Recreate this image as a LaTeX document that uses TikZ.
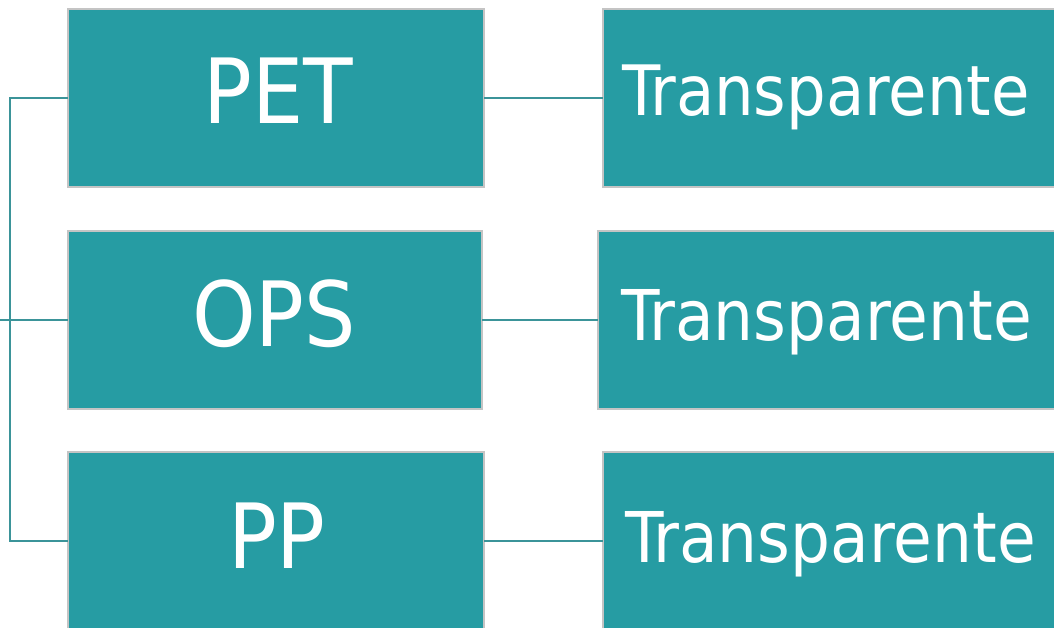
\documentclass[tikz,border=0pt]{standalone}
\usepackage{fontspec}
\newfontfamily\boxfont{DejaVu Sans Condensed}
\definecolor{teal1}{HTML}{269CA3}
\definecolor{edge1}{HTML}{C4C4C4}
\definecolor{line1}{HTML}{3B9499}
\begin{document}
\begin{tikzpicture}[x=1pt,y=-1pt,
  tbox/.style={draw=edge1, line width=1.4pt, fill=teal1, inner sep=0pt, outer sep=0pt},
  lbl/.style={text=white, anchor=base, inner sep=0pt, font=\boxfont},
  conn/.style={draw=line1, line width=1.6pt}]
\useasboundingbox (0,0) rectangle (1054,627);
\clip (0,0) rectangle (1054,627);
\fill[white] (0,0) rectangle (1054,627);
% left boxes
\node[tbox, minimum width=416pt, minimum height=178pt] (b1) at (276,98) {};
\node[tbox, minimum width=414pt, minimum height=178pt] (b2) at (275,320) {};
\node[tbox, minimum width=416pt, minimum height=178pt] (b3) at (276,541) {};
% right boxes
\node[tbox, minimum width=480pt, minimum height=178pt] (r1) at (843,98) {};
\node[tbox, minimum width=480pt, minimum height=178pt] (r2) at (838,320) {};
\node[tbox, minimum width=480pt, minimum height=178pt] (r3) at (843,541) {};
% labels
\node[lbl, font=\boxfont\fontsize{90}{90}\selectfont] (t1) at (278.5,123) {PET};
\node[lbl, font=\boxfont\fontsize{90}{90}\selectfont] (t2) at (274,346) {OPS};
\node[lbl, font=\boxfont\fontsize{90}{90}\selectfont] (t3) at (277,568) {PP};
\node[lbl, font=\boxfont\fontsize{69.5}{70}\selectfont] (s1) at (826,115) {Transparente};
\node[lbl, font=\boxfont\fontsize{70}{70}\selectfont] (s2) at (826.5,340) {Transparente};
\node[lbl, font=\boxfont\fontsize{70}{70}\selectfont] (s3) at (830.5,562) {Transparente};
% connectors
\coordinate (root) at (0,320);
\draw[conn] (b1.west) -| (10,541) -- (b3.west);
\draw[conn] (root) -- (b2.west);
\draw[conn] (b1.east) -- (r1.west);
\draw[conn] (b2.east) -- (r2.west);
\draw[conn] (b3.east) -- (r3.west);
\end{tikzpicture}
\end{document}
